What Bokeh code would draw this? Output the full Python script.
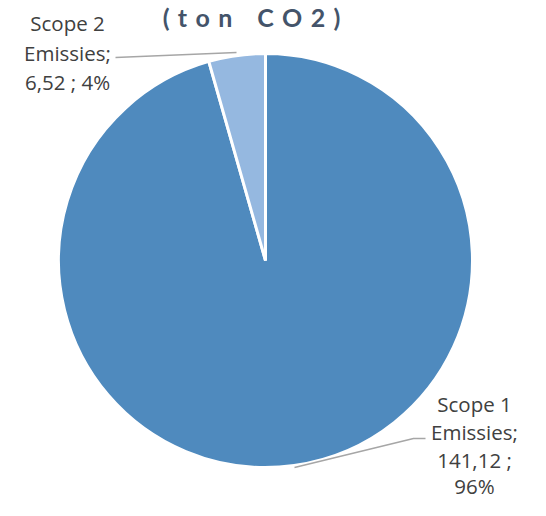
import math
from bokeh.plotting import figure
from bokeh.models import ColumnDataSource, Range1d
from bokeh.embed import file_html
from bokeh.resources import INLINE
from bokeh.core.properties import value

# ---- data ----
categories = ["Scope 1", "Scope 2"]
values = [141.12, 6.52]
colors = ["#4F8ABE", "#95B8E0"]
title_text = "(\u2004t\u2004o\u2004n\u2004\u2004\u2004C\u2004O\u20042\u2004)"

W, H = 530, 500
CX, CY, R = 265, H - 260, 207

total = sum(values)
starts, ends = [], []
acc = 0.0
for v in values:
    starts.append(math.pi / 2 - 2 * math.pi * acc / total)
    acc += v
    ends.append(math.pi / 2 - 2 * math.pi * acc / total)

src = ColumnDataSource(dict(cat=categories, val=values, start=starts, end=ends, color=colors))

p = figure(width=W, height=H, x_range=Range1d(0, W), y_range=Range1d(0, H),
           output_backend="svg", toolbar_location=None, min_border=0)
p.axis.visible = False
p.grid.visible = False
p.outline_line_color = None
p.background_fill_color = "white"
p.border_fill_color = "white"

p.wedge(x=CX, y=CY, radius=R, start_angle="start", end_angle="end", direction="clock",
        fill_color="color", line_color="white", line_width=3, source=src)

def fmt(v):
    return f"{v:.2f}".replace(".", ",")

pcts = [round(v / total * 100) for v in values]

lab_font = value("Open Sans")
lab_color = "#404040"

# vertical centres of each label line (px from top)
s2_lines = [f"{categories[1]}", "Emissies;", f"{fmt(values[1])} ; {pcts[1]}%"]
s2_x, s2_mid = 67, [22, 52, 81]
s1_lines = [f"{categories[0]}", "Emissies;", f"{fmt(values[0])} ;", f"{pcts[0]}%"]
s1_x, s1_mid = 474, [403, 431, 459, 485]

p.text(x=[s2_x] * 3, y=[H - b for b in s2_mid], text=s2_lines, text_font=lab_font,
       text_font_size="20.5px", text_color=lab_color, text_align="center",
       text_baseline="middle")
p.text(x=[s1_x] * 4, y=[H - b for b in s1_mid], text=s1_lines, text_font=lab_font,
       text_font_size="20.5px", text_color=lab_color, text_align="center",
       text_baseline="middle")

# leader lines
p.line(x=[115, 236], y=[H - 57, H - 52], line_color="#A6A6A6", line_width=1.5)
p.line(x=[294, 413, 425], y=[H - 467, H - 438, H - 438], line_color="#A6A6A6", line_width=1.5)

# title
p.text(x=[251], y=[H - 16], text=[title_text], text_font=value("Lato"),
       text_font_style="bold", text_font_size="25px", text_color="#44546A",
       text_align="center", text_baseline="middle")

open("out.html", "w").write(file_html(p, INLINE))
